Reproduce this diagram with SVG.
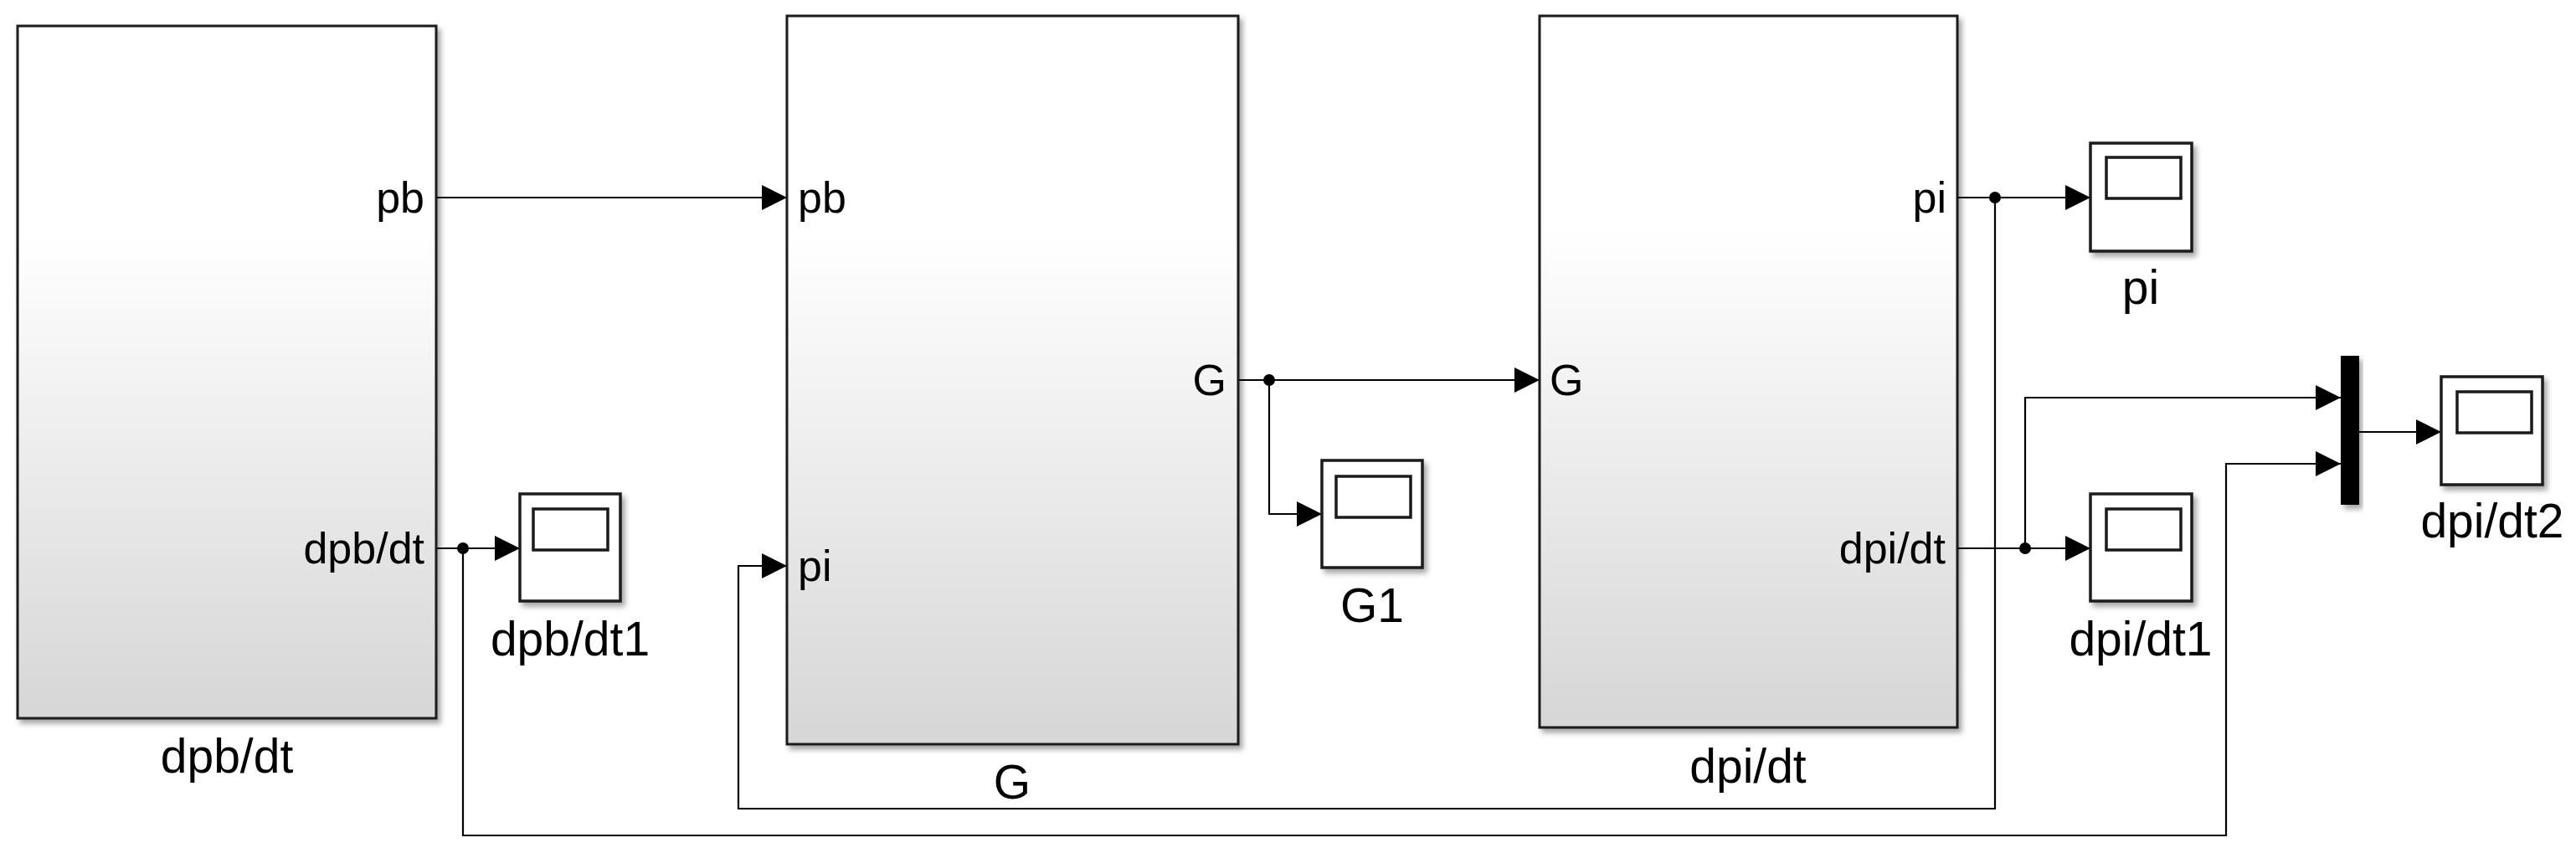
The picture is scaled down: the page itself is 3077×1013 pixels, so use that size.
<svg xmlns="http://www.w3.org/2000/svg" width="3077" height="1013" viewBox="0 0 3077 1013">
  <defs>
    <linearGradient id="subFill" x1="0" y1="0" x2="0" y2="1">
      <stop offset="0" stop-color="#ffffff"/>
      <stop offset="0.3" stop-color="#ffffff"/>
      <stop offset="1" stop-color="#d6d6d6"/>
    </linearGradient>
    <filter id="shadow" x="-10%" y="-10%" width="130%" height="130%">
      <feDropShadow dx="4" dy="5" stdDeviation="3" flood-color="#000" flood-opacity="0.35"/>
    </filter>
    <marker id="arrow" viewBox="0 0 30 30" refX="30" refY="15" markerWidth="30" markerHeight="30" markerUnits="userSpaceOnUse" orient="auto">
      <path d="M0,0 L30,15 L0,30 z" fill="#000"/>
    </marker>
  </defs>
  <style>
    .sub { fill: url(#subFill); stroke: #1a1a1a; stroke-width: 3; filter: url(#shadow); }
    .scope { fill: #ffffff; stroke: #1a1a1a; stroke-width: 3.5; filter: url(#shadow); }
    .screen { fill: #ffffff; stroke: #1a1a1a; stroke-width: 3.5; }
    .mux { fill: #000; filter: url(#shadow); }
    .wire { fill: none; stroke: #000; stroke-width: 2.2; }
    .arr { marker-end: url(#arrow); }
    .dot { fill: #000; }
    text { font-family: "Liberation Sans", Arial, sans-serif; font-size: 52px; fill: #000; }
    text.lbl { font-size: 57px; text-anchor: middle; }
    .end { text-anchor: end; }
  </style>
  <rect width="3077" height="1013" fill="#ffffff"/>

  <g id="connectors">
    <path class="wire arr" d="M521,236 H940"/>
    <path class="wire arr" d="M521,655 H621"/>
    <path class="wire arr" d="M553,655 V998 H2659 V554 H2796"/>
    <path class="wire arr" d="M1479,454 H1839"/>
    <path class="wire arr" d="M1516,454 V614 H1579"/>
    <path class="wire arr" d="M2338,236 H2497"/>
    <path class="wire arr" d="M2383,236 V966 H882 V676 H940"/>
    <path class="wire arr" d="M2338,655 H2497"/>
    <path class="wire arr" d="M2419,655 V475 H2796"/>
    <path class="wire arr" d="M2818,516 H2916"/>
    <circle class="dot" cx="553" cy="655" r="7"/>
    <circle class="dot" cx="1516" cy="454" r="7"/>
    <circle class="dot" cx="2383" cy="236" r="7"/>
    <circle class="dot" cx="2419" cy="655" r="7"/>
  </g>

  <g id="node-dpbdt">
    <rect class="sub" x="21" y="31" width="500" height="827"/>
    <text class="end" x="507" y="254">pb</text>
    <text class="end" x="507" y="673">dpb/dt</text>
    <text class="lbl" x="271" y="923">dpb/dt</text>
  </g>

  <g id="node-G">
    <rect class="sub" x="940" y="19" width="539" height="870"/>
    <text x="953" y="254">pb</text>
    <text x="953" y="694">pi</text>
    <text class="end" x="1465" y="472">G</text>
    <text class="lbl" x="1209" y="954">G</text>
  </g>

  <g id="node-dpidt">
    <rect class="sub" x="1839" y="19" width="499" height="850"/>
    <text x="1851" y="472">G</text>
    <text class="end" x="2325" y="254">pi</text>
    <text class="end" x="2324" y="673">dpi/dt</text>
    <text class="lbl" x="2088" y="935">dpi/dt</text>
  </g>

  <g id="node-scope-dpbdt1">
    <rect class="scope" x="621" y="590" width="120" height="128"/>
    <rect class="screen" x="637" y="608" width="89" height="49"/>
    <text class="lbl" x="681" y="783">dpb/dt1</text>
  </g>

  <g id="node-scope-G1">
    <rect class="scope" x="1579" y="550" width="120" height="128"/>
    <rect class="screen" x="1596" y="569" width="89" height="49"/>
    <text class="lbl" x="1639" y="743">G1</text>
  </g>

  <g id="node-scope-pi">
    <rect class="scope" x="2497" y="171" width="121" height="129"/>
    <rect class="screen" x="2516" y="188" width="89" height="49"/>
    <text class="lbl" x="2557" y="363">pi</text>
  </g>

  <g id="node-scope-dpidt1">
    <rect class="scope" x="2497" y="590" width="121" height="128"/>
    <rect class="screen" x="2516" y="608" width="89" height="49"/>
    <text class="lbl" x="2557" y="783">dpi/dt1</text>
  </g>

  <g id="node-mux">
    <rect class="mux" x="2796" y="425" width="22" height="178"/>
  </g>

  <g id="node-scope-dpidt2">
    <rect class="scope" x="2916" y="450" width="121" height="129"/>
    <rect class="screen" x="2935" y="468" width="89" height="49"/>
    <text class="lbl" x="2977" y="642">dpi/dt2</text>
  </g>
</svg>
